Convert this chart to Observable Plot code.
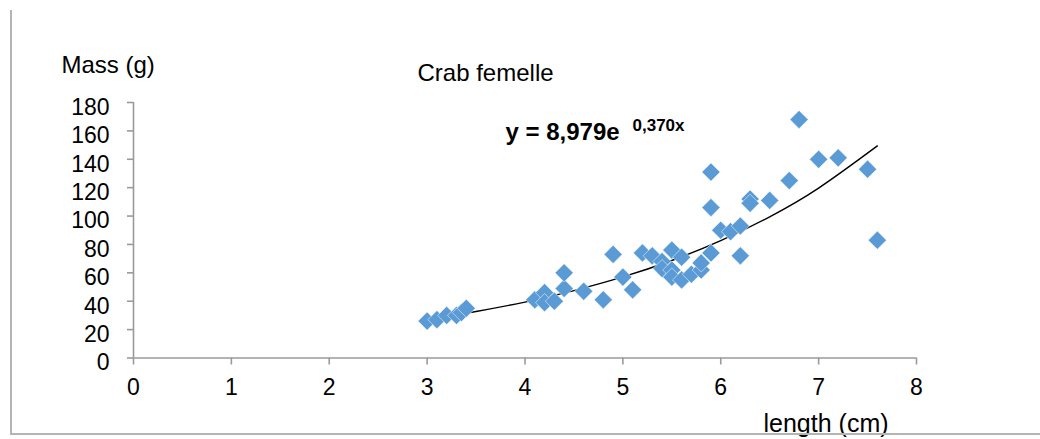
<!DOCTYPE html>
<html><head><meta charset="utf-8">
<script src="https://cdn.jsdelivr.net/npm/d3@7"></script>
<script src="https://cdn.jsdelivr.net/npm/@observablehq/plot@0.6"></script>
<style>
body{margin:0;background:#fff;}
#wrap{position:relative;width:1040px;height:439px;overflow:hidden;font-family:"Liberation Sans",Arial,sans-serif;}
#wrap svg{position:absolute;left:0;top:0;}
#frame{position:absolute;left:10px;top:10px;width:1040px;height:423px;border-left:2px solid #b4b4b4;border-bottom:2px solid #b4b4b4;pointer-events:none;}
</style></head><body>
<div id="wrap"><div id="frame"></div></div>
<script>
// Data
const lengthCm = [3.0, 3.1, 3.2, 3.3, 3.35, 3.4, 4.1, 4.2, 4.2, 4.3, 4.4, 4.4, 4.6, 4.8, 4.9, 5.0, 5.1, 5.2, 5.3, 5.4, 5.4, 5.5, 5.5, 5.5, 5.6, 5.6, 5.7, 5.8, 5.8, 5.9, 5.9, 5.9, 6.0, 6.1, 6.2, 6.2, 6.3, 6.3, 6.5, 6.7, 6.8, 7.0, 7.2, 7.5, 7.6];
const massG    = [26, 27, 30, 30, 32, 35, 41, 46, 39, 40, 49, 60, 47, 41, 73, 57, 48, 74, 72, 68, 63, 76, 62, 57, 71, 55, 59, 62, 67, 74, 106, 131, 90, 89, 93, 72, 112, 109, 111, 125, 168, 140, 141, 133, 83];
// Exponential trend line (y = 8,979e^0,370x)
const trendLength = [3.0, 3.5, 4.0, 4.5, 5.0, 5.5, 6.0, 6.5, 7.0, 7.6];
const trendMass   = [27.2, 32.8, 39.4, 47.5, 57.1, 68.7, 82.7, 99.5, 119.7, 149.4];
const xTicks = [0, 1, 2, 3, 4, 5, 6, 7, 8];
const yTicks = [0, 20, 40, 60, 80, 100, 120, 140, 160, 180];
const chartTitle = "Crab femelle";
const yLabel = "Mass (g)";
const xLabel = "length (cm)";
const eqMain = "y = 8,979e";
const eqExp = "0,370x";

const points = lengthCm.map((x, i) => ({x, y: massG[i]}));
const trend = trendLength.map((x, i) => ({x, y: trendMass[i]}));

const axisColor = "#9a9a9a";
const font = "'Liberation Sans', Arial, sans-serif";

const chart = Plot.plot({
  width: 1040,
  height: 439,
  marginTop: 102,
  marginBottom: 81.5,
  marginLeft: 133,
  marginRight: 124,
  x: {domain: [0, 8]},
  y: {domain: [0, 180]},
  style: {fontFamily: font, color: "#000", background: "transparent", overflow: "visible"},
  marks: [
    Plot.ruleX([0], {stroke: axisColor, strokeWidth: 1.6}),
    Plot.ruleY([0], {stroke: axisColor, strokeWidth: 1.6}),
    Plot.axisY({ticks: yTicks, tickSize: 6, fill: "none", stroke: axisColor, strokeWidth: 1.6, label: null}),
    Plot.axisY({ticks: yTicks, tickSize: 6, tickPadding: 18, stroke: "none", fill: "#000", fontSize: 23, dy: 5, label: null}),
    Plot.axisX({ticks: xTicks, tickSize: 7, fill: "none", stroke: axisColor, strokeWidth: 1.6, label: null}),
    Plot.axisX({ticks: xTicks, tickSize: 7, tickPadding: 14, stroke: "none", fill: "#000", fontSize: 23, label: null}),
    Plot.line(trend, {x: "x", y: "y", stroke: "#000", strokeWidth: 1.4, curve: "natural"}),
    Plot.dot(points, {x: "x", y: "y", symbol: "diamond2", r: 8.2, fill: "#5b9bd5", stroke: "#fff", strokeWidth: 0.5}),
    Plot.text([chartTitle], {frameAnchor: "top-left", dx: 284, dy: -39, lineAnchor: "top", textAnchor: "start", fontSize: 24, fill: "#000"}),
    Plot.text([yLabel], {frameAnchor: "top-left", dx: -72, dy: -47, lineAnchor: "top", textAnchor: "start", fontSize: 24, fill: "#000"}),
    Plot.text([eqMain], {frameAnchor: "top-left", dx: 372, dy: 20, lineAnchor: "top", textAnchor: "start", fontSize: 24, fontWeight: "bold", fill: "#000"}),
    Plot.text([eqExp], {frameAnchor: "top-left", dx: 499, dy: 16, lineAnchor: "top", textAnchor: "start", fontSize: 17, fontWeight: "bold", fill: "#000"}),
    Plot.text([xLabel], {frameAnchor: "bottom-left", dx: 630, dy: 56, lineAnchor: "top", textAnchor: "start", fontSize: 25, fill: "#000"})
  ]
});
document.getElementById("wrap").prepend(chart);
</script>
</body></html>
